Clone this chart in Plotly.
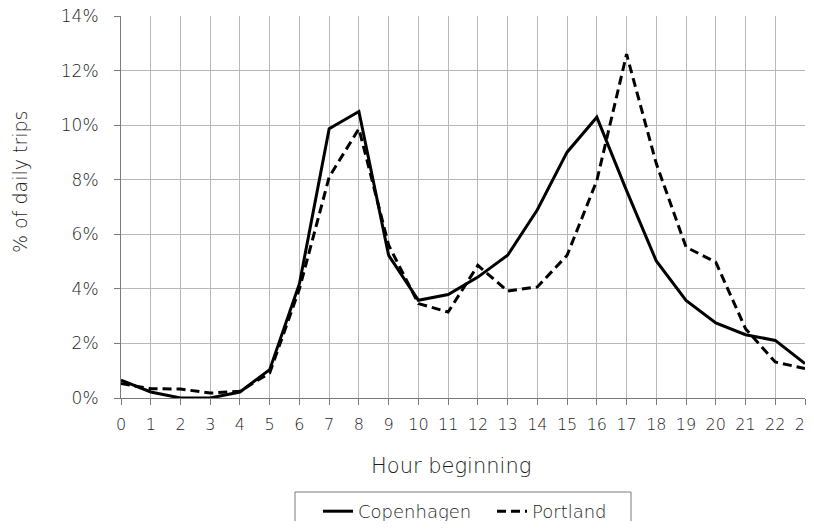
import plotly.graph_objects as go

hours = list(range(24))
hour_labels = [str(h) for h in hours]
copenhagen = [0.65, 0.22, 0.0, 0.0, 0.22, 1.04, 4.19, 9.87, 10.5, 5.23, 3.58, 3.79,
              4.43, 5.23, 6.9, 9.01, 10.29, 7.6, 5.02, 3.58, 2.75, 2.32, 2.11, 1.26]
portland = [0.53, 0.34, 0.33, 0.18, 0.25, 0.92, 4.0, 8.1, 9.87, 5.6, 3.46, 3.15,
            4.86, 3.92, 4.07, 5.23, 7.97, 12.6, 8.59, 5.53, 4.98, 2.54, 1.32, 1.08]
y_ticks = [0, 2, 4, 6, 8, 10, 12, 14]
y_tick_labels = [f"{v}%" for v in y_ticks]

FONT = "DejaVu Sans"
TXT = "#1c1c1c"
WT = 200

# page body has an 8px margin: figure starts at (8, 8); avoid any page scrollbars
OFF = 8
PL, PR, PT, PB = 121 - OFF, 805 - OFF, 16 - OFF, 398 - OFF
W, H = 814 - OFF, 529 - 2 * OFF
PW, PH = PR - PL, PB - PT


def px(x):
    return (x - OFF - PL) / PW


def py(y):
    return (PB - (y - OFF)) / PH


fig = go.Figure()
fig.add_trace(go.Scatter(x=hours, y=copenhagen, mode="lines", name="Copenhagen",
                         line=dict(color="black", width=3)))
fig.add_trace(go.Scatter(x=hours, y=portland, mode="lines", name="Portland",
                         line=dict(color="black", width=3, dash="9px,5px")))

fig.update_layout(
    width=W, height=H,
    margin=dict(l=PL, r=W - PR, t=PT, b=H - PB, autoexpand=False),
    paper_bgcolor="white", plot_bgcolor="white",
    font=dict(family=FONT, size=16, color=TXT, weight=WT),
    showlegend=True,
    legend=dict(orientation="h", x=px(318), xanchor="left", y=py(493), yanchor="top",
                font=dict(family=FONT, size=18, color=TXT, weight=WT),
                bgcolor="rgba(0,0,0,0)", borderwidth=0, itemwidth=30,
                entrywidth=129),
    xaxis=dict(range=[0, 23], tickmode="array", tickvals=hours, ticktext=hour_labels,
               showgrid=True, gridcolor="#b8b8b8", gridwidth=1,
               showline=True, linecolor="#7a7a7a", linewidth=1,
               ticks="outside", ticklen=6, tickcolor="#7a7a7a",
               zeroline=False, automargin=False, ticklabeloverflow="allow",
               ticklabelstandoff=6,
               tickfont=dict(family=FONT, size=16, color=TXT, weight=WT)),
    yaxis=dict(range=[0, 14], tickmode="array", tickvals=y_ticks, ticktext=y_tick_labels,
               showgrid=True, gridcolor="#b8b8b8", gridwidth=1,
               showline=True, linecolor="#7a7a7a", linewidth=1,
               ticks="outside", ticklen=6, tickcolor="#7a7a7a",
               zeroline=False, automargin=False, ticklabeloverflow="allow",
               ticklabelstandoff=12,
               tickfont=dict(family=FONT, size=17, color=TXT, weight=WT)),
    annotations=[
        dict(text="% of daily trips", xref="paper", yref="paper", x=px(20),
             y=py(182),
             xanchor="center", yanchor="middle", textangle=-90, showarrow=False,
             font=dict(family=FONT, size=19, color=TXT, weight=WT)),
        dict(text="Hour beginning", xref="paper", yref="paper", x=px(451),
             y=py(466),
             xanchor="center", yanchor="middle", showarrow=False,
             font=dict(family=FONT, size=21, color=TXT, weight=WT)),
    ],
    shapes=[
        dict(type="rect", xref="paper", yref="paper",
             x0=px(295), x1=px(631),
             y0=py(492), y1=py(545),
             line=dict(color="#7a7a7a", width=1), fillcolor="rgba(0,0,0,0)"),
    ],
)

fig.write_html("out.html")
